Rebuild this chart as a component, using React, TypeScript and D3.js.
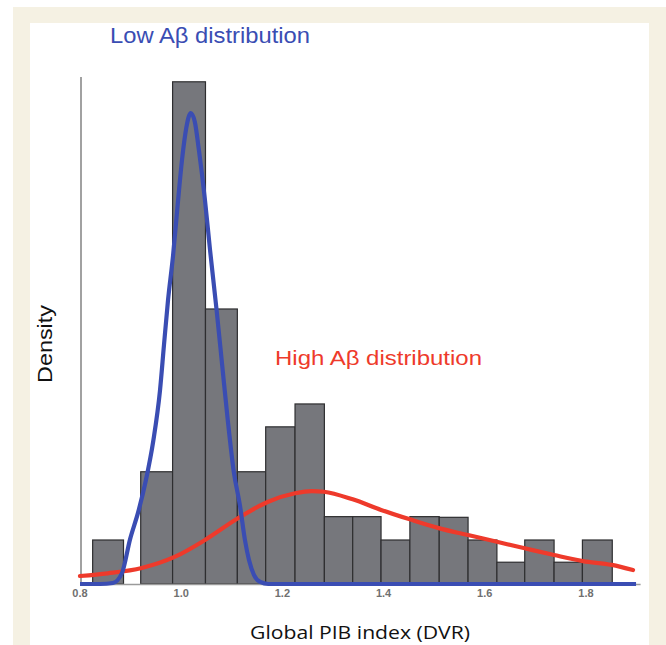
import React from "react";
import * as d3 from "d3";

// Histogram bins (Global PIB index, DVR) and heights (density, arbitrary units)
const binStarts = [0.825, 0.920, 0.983, 1.048, 1.111, 1.167, 1.225, 1.283, 1.339, 1.395, 1.452, 1.510, 1.567, 1.624, 1.679, 1.737, 1.793];
const binEnds = [0.886, 0.983, 1.048, 1.111, 1.167, 1.225, 1.283, 1.339, 1.395, 1.452, 1.510, 1.567, 1.624, 1.679, 1.737, 1.793, 1.852];
const binHeights = [1.96, 5.0, 22.37, 12.25, 5.0, 7.0, 8.02, 3.0, 3.0, 1.96, 3.0, 2.97, 1.96, 0.97, 1.96, 0.97, 1.96];

// Low Aβ distribution curve
const lowX = [0.800, 0.840, 0.865, 0.883, 0.899, 0.915, 0.930, 0.945, 0.958, 0.966, 0.974, 0.984, 0.993, 1.002, 1.010, 1.019, 1.027, 1.035, 1.047, 1.057, 1.070, 1.081, 1.092, 1.104, 1.116, 1.126, 1.134, 1.144, 1.156, 1.172, 1.899];
const lowY = [0, 0, 0.045, 0.49, 2.0, 3.2, 4.6, 6.4, 8.6, 10.65, 12.65, 14.65, 16.88, 18.97, 20.31, 20.98, 20.58, 19.33, 17.10, 14.88, 12.20, 9.75, 7.31, 4.99, 3.52, 1.96, 1.07, 0.40, 0.09, 0, 0];

// High Aβ distribution curve
const highX = [0.800, 0.855, 0.922, 0.988, 1.047, 1.112, 1.172, 1.225, 1.258, 1.282, 1.339, 1.395, 1.452, 1.509, 1.567, 1.624, 1.679, 1.737, 1.794, 1.851, 1.893];
const highY = [0.356, 0.477, 0.713, 1.216, 1.960, 2.927, 3.666, 4.04, 4.14, 4.11, 3.77, 3.30, 2.88, 2.49, 2.18, 1.88, 1.59, 1.29, 1.02, 0.85, 0.62];

const xTicks = [0.8, 1.0, 1.2, 1.4, 1.6, 1.8];

const W = 666;
const H = 645;

export default function App() {
  const x = d3.scaleLinear().domain([0.8, 1.908]).range([80, 640.6]);
  const y = d3.scaleLinear().domain([0, 22.45]).range([584, 80]);

  const line = d3
    .line<[number, number]>()
    .x((d) => x(d[0]))
    .y((d) => y(d[1]))
    .curve(d3.curveMonotoneX);

  const lowPts: [number, number][] = lowX.map((v, i) => [v, lowY[i]]);
  const highPts: [number, number][] = highX.map((v, i) => [v, highY[i]]);

  return (
    <svg
      width={W}
      height={H}
      style={{ position: "absolute", left: 0, top: 0 }}
      fontFamily="'Liberation Sans', Arial, sans-serif"
    >
      <rect x={0} y={0} width={W} height={H} fill="#ffffff" />
      <rect x={13} y={7} width={W - 13} height={H - 7} fill="#f5f1e3" />
      <rect x={30} y={23} width={619} height={H - 23} fill="#ffffff" />

      {/* bars */}
      {binStarts.map((s, i) => (
        <rect
          key={i}
          x={x(s)}
          y={y(binHeights[i])}
          width={x(binEnds[i]) - x(s)}
          height={y(0) - y(binHeights[i])}
          fill="#76777c"
          stroke="#2e2e30"
          strokeWidth={1.2}
        />
      ))}

      {/* axes */}
      <line x1={81} x2={81} y1={77} y2={y(0)} stroke="#8a8a8a" strokeWidth={1.6} />
      <line x1={x(0.8)} x2={x(1.908)} y1={y(0) + 0.5} y2={y(0) + 0.5} stroke="#9a9a9a" strokeWidth={1.6} />

      {xTicks.map((t) => (
        <text
          key={t}
          x={x(t)}
          y={597}
          textAnchor="middle"
          fontSize={11}
          fontWeight="bold"
          fill="#707070"
        >
          {t.toFixed(1)}
        </text>
      ))}

      {/* curves */}
      <path d={line(highPts) || ""} fill="none" stroke="#ee3a2b" strokeWidth={4.2} strokeLinecap="round" />
      <path d={line(lowPts) || ""} fill="none" stroke="#3a4db3" strokeWidth={4.2} strokeLinejoin="round" />

      {/* labels */}
      <text x={110} y={43} fontSize={22} fill="#3a4db3" textLength={200} lengthAdjust="spacingAndGlyphs">
        Low Aβ distribution
      </text>
      <text x={275} y={365} fontSize={21} fill="#ee3a2b" textLength={207} lengthAdjust="spacingAndGlyphs">
        High Aβ distribution
      </text>
      <text
        transform="translate(52,344) rotate(-90)"
        textAnchor="middle"
        fontSize={20}
        fill="#111"
        textLength={78}
        lengthAdjust="spacingAndGlyphs"
      >
        Density
      </text>
      <text
        x={360}
        y={639}
        textAnchor="middle"
        fontSize={18}
        fill="#111"
        fontFamily="'Open Sans', 'Noto Sans', sans-serif"
        textLength={220}
        lengthAdjust="spacingAndGlyphs"
      >
        Global PIB index (DVR)
      </text>
    </svg>
  );
}
